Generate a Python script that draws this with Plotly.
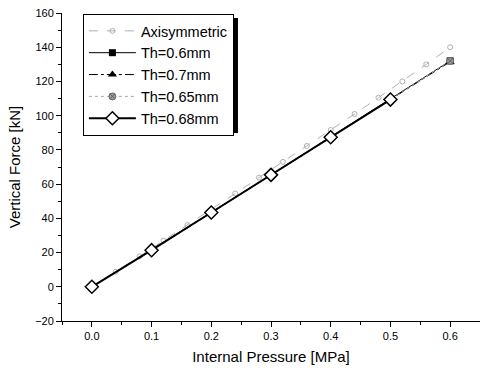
import plotly.graph_objects as go

# Data
p_axi = [0.0, 0.04, 0.08, 0.12, 0.16, 0.20, 0.24, 0.28, 0.32, 0.36, 0.40, 0.44, 0.48, 0.52, 0.56, 0.60]
f_axi = [0.0, 8.8, 17.8, 27.0, 36.0, 45.2, 54.5, 63.8, 73.0, 82.3, 91.6, 101.0, 110.5, 120.0, 130.0, 140.0]

p_main = [0.0, 0.1, 0.2, 0.3, 0.4, 0.5, 0.6]
f_06 = [0.0, 21.5, 43.5, 65.5, 87.5, 109.5, 132.0]
f_07 = [0.0, 21.3, 43.2, 65.2, 87.2, 109.2, 131.5]
f_065 = [0.0, 21.4, 43.4, 65.4, 87.4, 109.4, 132.0]
p_068 = [0.0, 0.1, 0.2, 0.3, 0.4, 0.5]
f_068 = [0.0, 21.4, 43.4, 65.4, 87.4, 109.4]

x_ticks = [0.0, 0.1, 0.2, 0.3, 0.4, 0.5, 0.6]
x_ticklabels = ["0.0", "0.1", "0.2", "0.3", "0.4", "0.5", "0.6"]
y_ticks = [-20, 0, 20, 40, 60, 80, 100, 120, 140, 160]

fig = go.Figure()
fig.add_trace(go.Scatter(x=p_axi, y=f_axi, name="Axisymmetric", mode="lines+markers",
                         line=dict(color="#b0b0b0", width=1, dash="dash"),
                         marker=dict(symbol="circle-open", size=5, color="#b0b0b0", line=dict(width=1))))
fig.add_trace(go.Scatter(x=p_main, y=f_06, name="Th=0.6mm", mode="lines+markers",
                         line=dict(color="black", width=1),
                         marker=dict(symbol="square", size=7, color="black")))
fig.add_trace(go.Scatter(x=p_main, y=f_07, name="Th=0.7mm", mode="lines+markers",
                         line=dict(color="black", width=1, dash="dashdot"),
                         marker=dict(symbol="triangle-up", size=8, color="black")))
fig.add_trace(go.Scatter(x=p_main, y=f_065, name="Th=0.65mm", mode="lines+markers",
                         line=dict(color="#aaaaaa", width=1, dash="dot"),
                         marker=dict(symbol="circle-x", size=7, color="#999999",
                                     line=dict(color="#666666", width=1))))
fig.add_trace(go.Scatter(x=p_068, y=f_068, name="Th=0.68mm", mode="lines+markers",
                         line=dict(color="black", width=2),
                         marker=dict(symbol="diamond", size=10, color="white",
                                     line=dict(color="black", width=1.5))))

fig.update_layout(
    width=480, height=373,
    margin=dict(l=62, r=0, t=13, b=52),
    paper_bgcolor="white", plot_bgcolor="white",
    font=dict(family="Liberation Sans, Arial", size=12, color="black"),
    legend=dict(x=0.05, y=0.997, xanchor="left", yanchor="top",
                bgcolor="white", bordercolor="black", borderwidth=1,
                font=dict(size=14.5), tracegroupgap=0, itemwidth=47),
    shapes=[dict(type="rect", xref="paper", yref="paper",
                 x0=0.06, x1=0.421, y0=0.610, y1=0.984,
                 fillcolor="black", line=dict(width=0), layer="above")],
)
fig.update_xaxes(range=[-0.05, 0.65], tickvals=x_ticks, ticktext=x_ticklabels,
                 showline=True, linecolor="black", linewidth=1, mirror=False,
                 ticks="outside", ticklen=5, tickcolor="black", showgrid=False, zeroline=False,
                 minor=dict(ticks="outside", ticklen=3, dtick=0.05, tick0=0, tickcolor="black"),
                 title=dict(text="Internal Pressure [MPa]", font=dict(size=15), standoff=10),
                 tickfont=dict(size=11))
fig.update_yaxes(range=[-20, 160], tickvals=y_ticks,
                 showline=True, linecolor="black", linewidth=1, mirror=False,
                 ticks="outside", ticklen=5, tickcolor="black", showgrid=False, zeroline=False,
                 minor=dict(ticks="outside", ticklen=3, dtick=10, tick0=0, tickcolor="black"),
                 title=dict(text="Vertical Force [kN]", font=dict(size=15), standoff=10),
                 tickfont=dict(size=11))

fig.write_html("out.html", config={"displayModeBar": False},
               post_script="document.body.style.margin='0';")
